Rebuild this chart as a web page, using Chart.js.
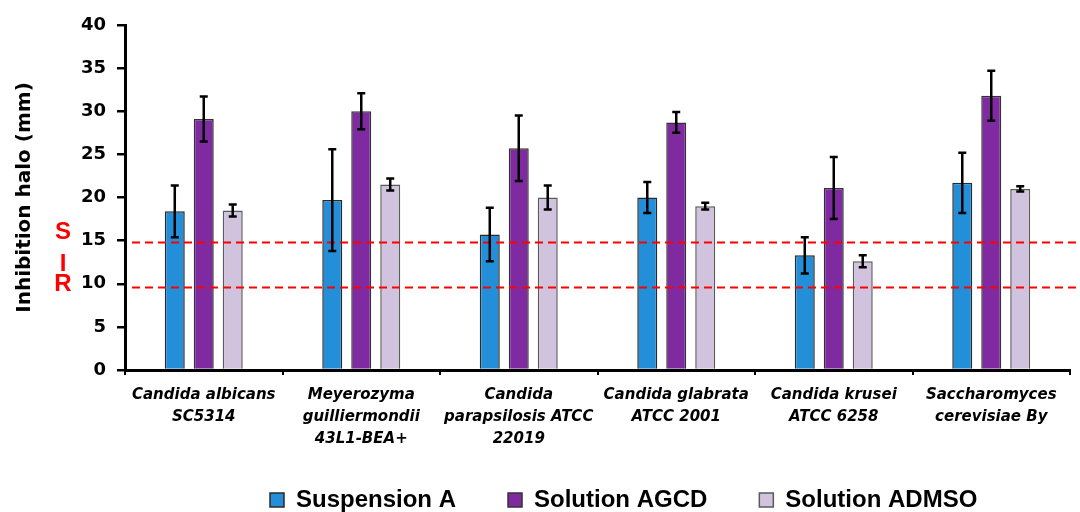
<!DOCTYPE html>
<html>
<head>
<meta charset="utf-8">
<script src="https://cdn.jsdelivr.net/npm/chart.js@4.4.0/dist/chart.umd.min.js"></script>
<style>
  html, body { margin: 0; padding: 0; background: #ffffff; }
  #wrap { width: 1080px; height: 512px; position: relative; }
</style>
</head>
<body>
<div id="wrap"><canvas id="c" width="1080" height="512"></canvas></div>
<script>
// ---------- data ----------
const categories = [
  ['Candida albicans', 'SC5314'],
  ['Meyerozyma', 'guilliermondii', '43L1-BEA+'],
  ['Candida', 'parapsilosis ATCC', '22019'],
  ['Candida glabrata', 'ATCC 2001'],
  ['Candida krusei', 'ATCC 6258'],
  ['Saccharomyces', 'cerevisiae By']
];
const seriesNames = ['Suspension A', 'Solution AGCD', 'Solution ADMSO'];
const suspensionA = [18.4, 19.7, 15.7, 20.0, 13.3, 21.7];
const suspensionAErr = [3.0, 5.9, 3.1, 1.8, 2.1, 3.5];
const solutionAGCD = [29.1, 30.0, 25.7, 28.7, 21.1, 31.8];
const solutionAGCDErr = [2.6, 2.1, 3.8, 1.2, 3.6, 2.9];
const solutionADMSO = [18.5, 21.5, 20.0, 19.0, 12.6, 21.0];
const solutionADMSOErr = [0.7, 0.7, 1.4, 0.4, 0.7, 0.3];
const thresholdValues = [14.8, 9.6];
const sirLabels = ['S', 'I', 'R'];
const sirValues = [15.9, 12.3, 9.9];
const yTitle = 'Inhibition halo (mm)';
const yMin = 0, yMax = 40, yStep = 5;

// ---------- styles / layout ----------
const colors = ['#228FD8', '#7F2AA0', '#D1C3DD'];
const borders = ['#2a2a2a', '#333333', '#5a5a5a'];
const errors = [suspensionAErr, solutionAGCDErr, solutionADMSOErr];
const PLOT_BOTTOM = 370;
const Y_AXIS_WIDTH = 125;
const LEGEND_PAD = 52;
const LEGEND_FIRST_BOX = 270;
const LEGEND_CENTER_Y = 500;
const LEGEND_FONT = 24;

const layoutPlugin = {
  id: 'layoutTweak',
  afterLayout(chart) {
    // let the multi-line category labels extend below the axis box
    chart.scales.x.bottom = chart.height;
    const lg = chart.legend;
    lg.left = LEGEND_FIRST_BOX - LEGEND_PAD;
    lg.right = chart.width + 200;
    lg.top = LEGEND_CENTER_Y - LEGEND_PAD - LEGEND_FONT / 2;
    lg.bottom = lg.top + lg.height;
  }
};

const overlayPlugin = {
  id: 'overlay',
  afterDatasetsDraw(chart) {
    const ctx = chart.ctx, y = chart.scales.y, area = chart.chartArea;
    ctx.save();
    // dashed S / I / R breakpoints
    ctx.strokeStyle = '#FF0000';
    ctx.lineWidth = 2;
    ctx.setLineDash([8, 5]);
    thresholdValues.forEach(v => {
      const py = Math.round(y.getPixelForValue(v)) + 0.5;
      ctx.beginPath();
      ctx.moveTo(area.left + 7, py);
      ctx.lineTo(chart.width, py);
      ctx.stroke();
    });
    ctx.setLineDash([]);
    // error bars
    ctx.strokeStyle = '#000000';
    ctx.lineWidth = 2.5;
    chart.data.datasets.forEach((ds, di) => {
      const meta = chart.getDatasetMeta(di);
      meta.data.forEach((bar, i) => {
        const v = ds.data[i], e = errors[di][i];
        const yt = y.getPixelForValue(v + e), yb = y.getPixelForValue(v - e);
        const x = bar.x;
        ctx.beginPath();
        ctx.moveTo(x, yt); ctx.lineTo(x, yb);
        ctx.moveTo(x - 4, yt); ctx.lineTo(x + 4, yt);
        ctx.moveTo(x - 4, yb); ctx.lineTo(x + 4, yb);
        ctx.stroke();
      });
    });
    // S I R labels
    ctx.fillStyle = '#FF0000';
    ctx.font = 'bold 24px "Liberation Sans", Arial, sans-serif';
    ctx.textAlign = 'center';
    ctx.textBaseline = 'middle';
    sirLabels.forEach((t, i) => {
      ctx.fillText(t, area.left - 62, y.getPixelForValue(sirValues[i]));
    });
    ctx.restore();
  }
};

new Chart(document.getElementById('c'), {
  type: 'bar',
  data: {
    labels: categories,
    datasets: [
      { label: seriesNames[0], data: suspensionA, backgroundColor: colors[0], borderColor: borders[0], borderWidth: 1.5 },
      { label: seriesNames[1], data: solutionAGCD, backgroundColor: colors[1], borderColor: borders[1], borderWidth: 1.5 },
      { label: seriesNames[2], data: solutionADMSO, backgroundColor: colors[2], borderColor: borders[2], borderWidth: 1.5 }
    ]
  },
  options: {
    responsive: false,
    animation: false,
    devicePixelRatio: 1,
    barPercentage: 0.69,
    categoryPercentage: 0.552,
    layout: { padding: { top: 25, right: 10, left: 0, bottom: 0 } },
    plugins: {
      tooltip: { enabled: false },
      legend: {
        position: 'bottom',
        align: 'start',
        labels: {
          boxWidth: 14,
          boxHeight: 14,
          padding: LEGEND_PAD,
          color: '#000000',
          font: { family: '"Liberation Sans", Arial, sans-serif', size: LEGEND_FONT, weight: 'bold' }
        }
      }
    },
    scales: {
      x: {
        afterFit(s) {
          s.height = s.chart.height - s.chart.legend.height - PLOT_BOTTOM;
        },
        grid: { display: true, drawOnChartArea: false, drawTicks: true, tickLength: 5, color: '#000000', lineWidth: 2, offset: true },
        border: { display: true, color: '#000000', width: 3 },
        ticks: {
          autoSkip: false,
          maxRotation: 0,
          minRotation: 0,
          padding: 9,
          color: '#000000',
          font: { family: '"DejaVu Sans", sans-serif', size: 15, weight: 'bold', style: 'italic', lineHeight: 1.47 }
        }
      },
      y: {
        min: yMin,
        max: yMax,
        afterFit(s) { s.width = Y_AXIS_WIDTH; },
        grid: { display: true, drawOnChartArea: false, drawTicks: true, tickLength: 8, color: '#000000', lineWidth: 2.5 },
        border: { display: true, color: '#000000', width: 3 },
        ticks: {
          stepSize: yStep,
          padding: 11,
          color: '#000000',
          font: { family: '"DejaVu Sans", sans-serif', size: 18, weight: 'bold' }
        },
        title: {
          display: true,
          text: yTitle,
          color: '#000000',
          padding: { top: 13, bottom: 4 },
          font: { family: '"DejaVu Sans", sans-serif', size: 20, weight: 'bold', lineHeight: 1.2 }
        }
      }
    }
  },
  plugins: [layoutPlugin, overlayPlugin]
});
</script>
</body>
</html>
